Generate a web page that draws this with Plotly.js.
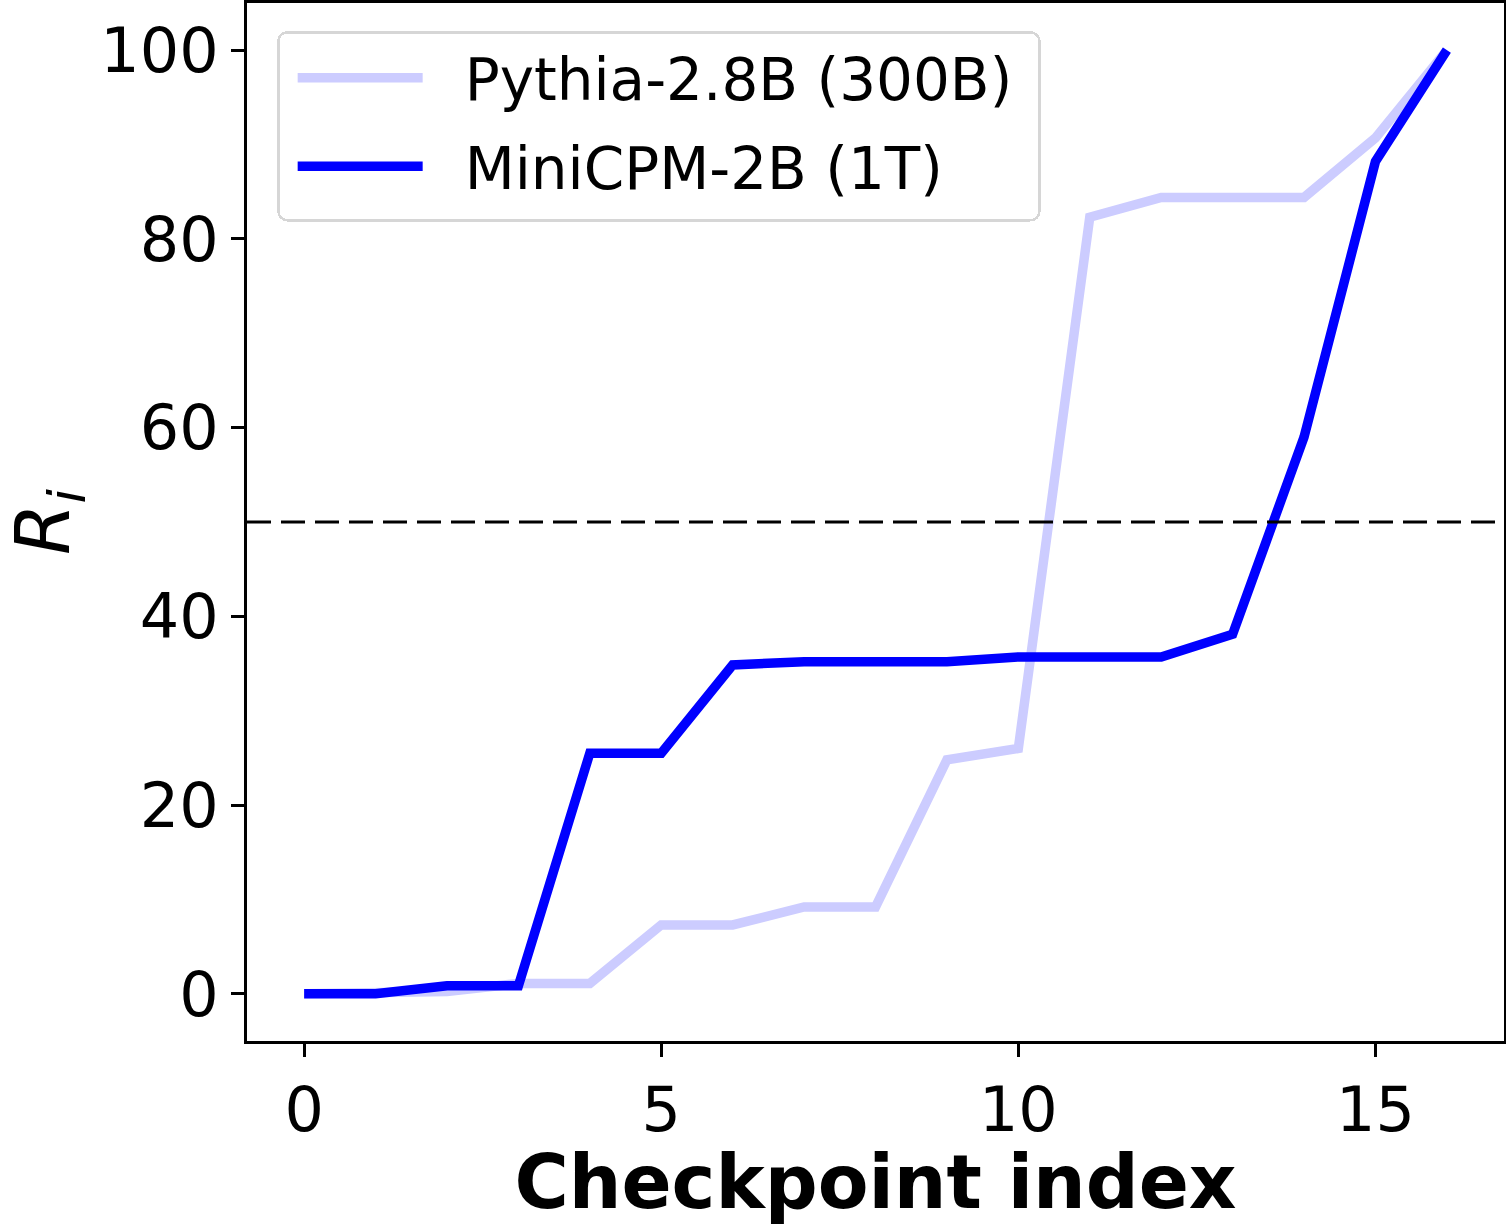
<!DOCTYPE html>
<html>
<head>
<meta charset="utf-8">
<script src="https://cdn.plot.ly/plotly-3.0.1.min.js"></script>
<style>
  html, body { margin: 0; padding: 0; background: #fff; }
  #chart { width: 1506px; height: 1225px; }
</style>
</head>
<body>
<div id="chart"></div>
<script>
const checkpoints = [0, 1, 2, 3, 4, 5, 6, 7, 8, 9, 10, 11, 12, 13, 14, 15, 16];
const pythiaName = "Pythia-2.8B (300B)";
const pythiaValues = [0, 0, 0.25, 1.1, 1.1, 7.3, 7.3, 9.2, 9.2, 24.8, 26.0, 82.3, 84.4, 84.4, 84.4, 90.7, 100];
const minicpmName = "MiniCPM-2B (1T)";
const minicpmValues = [0, 0, 0.85, 0.85, 25.5, 25.5, 34.85, 35.2, 35.2, 35.2, 35.7, 35.7, 35.7, 38.1, 59.0, 88.2, 100];
const thresholdValue = 50;
const xTickVals = [0, 5, 10, 15];
const yTickVals = [0, 20, 40, 60, 80, 100];

const font = "DejaVu Sans, sans-serif";
const legendSampleLen = 125;
const legendBoxW = 761;
const legendBoxH = 188;

const traces = [
  {
    x: checkpoints, y: pythiaValues, name: pythiaName, type: "scatter", mode: "lines",
    legendgroup: "g1",
    line: { color: "#ccccff", width: 9.5 }
  },
  {
    x: checkpoints, y: minicpmValues, name: minicpmName, type: "scatter", mode: "lines",
    legendgroup: "g2",
    line: { color: "#0000ff", width: 9.5 }
  }
];

const layout = {
  width: 1506, height: 1225,
  margin: { l: 247, r: 2, t: 3, b: 184 },
  paper_bgcolor: "#ffffff", plot_bgcolor: "#ffffff",
  font: { family: font, color: "#000", size: 62 },
  showlegend: true,
  legend: {
    x: 0.024, y: 0.973, xanchor: "left", yanchor: "top",
    bgcolor: "rgba(255,255,255,0.8)", bordercolor: "#d6d6d6", borderwidth: 2.5,
    font: { family: font, size: 58, color: "#000" },
    itemwidth: 175,
    tracegroupgap: 10
  },
  xaxis: {
    range: [-0.8, 16.8], tickvals: xTickVals, ticktext: xTickVals.map(String),
    showgrid: false, zeroline: false,
    showline: true, linecolor: "#000", linewidth: 3, mirror: true,
    ticks: "outside", ticklen: 13, tickwidth: 3, tickcolor: "#000",
    tickfont: { family: font, size: 62 },
    title: { text: "<b>Checkpoint index</b>", font: { family: font, size: 74 }, standoff: 22 }
  },
  yaxis: {
    range: [-5, 105], tickvals: yTickVals, ticktext: yTickVals.map(String),
    showgrid: false, zeroline: false,
    showline: true, linecolor: "#000", linewidth: 3, mirror: true,
    ticks: "outside", ticklen: 13, tickwidth: 3, tickcolor: "#000",
    tickfont: { family: font, size: 62 },
    title: { text: "<i>R</i><sub><i>i</i></sub>", font: { family: font, size: 74 }, standoff: 20 }
  },
  shapes: [
    {
      type: "line", xref: "paper", x0: 0, x1: 1, yref: "y", y0: thresholdValue, y1: thresholdValue,
      line: { color: "#000", width: 3, dash: "24px,10px" }, layer: "above"
    }
  ]
};

Plotly.newPlot("chart", traces, layout, { displayModeBar: false, staticPlot: true }).then(function (gd) {
  // lengthen legend line samples and size the frame like the reference
  gd.querySelectorAll(".legend .legendlines path").forEach(function (p) {
    p.setAttribute("d", "M18,0h" + legendSampleLen);
  });
  const bg = gd.querySelector(".legend rect.bg");
  if (bg) {
    bg.setAttribute("width", legendBoxW);
    bg.setAttribute("height", legendBoxH);
    bg.setAttribute("rx", 9);
    bg.setAttribute("ry", 9);
  }
});
</script>
</body>
</html>
